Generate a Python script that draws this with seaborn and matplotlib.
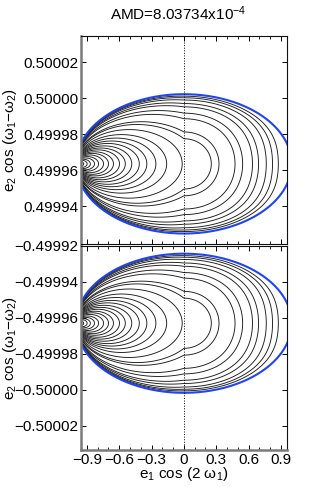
import numpy as np
import matplotlib
matplotlib.use("Agg")
from matplotlib import pyplot as plt
from matplotlib.ticker import MultipleLocator
import seaborn as sns

# values
title_text = "AMD=8.03734x10$^{-4}$"
ylabel_text = "e$_2$ cos (ω$_1$−ω$_2$)"
xlabel_text = "e$_1$ cos (2 ω$_1$)"
centers = [0.4999635, -0.4999630]      # centre of the blue boundary, top / bottom panel
half_height = 3.87e-5                   # vertical half axis of the boundary
half_width = 1.0                        # horizontal half axis
ylims = [(0.499919, 0.5000345), (-0.5000335, -0.4999205)]
yticks = [[0.49994, 0.49996, 0.49998, 0.50000, 0.50002],
          [-0.50002, -0.50000, -0.49998, -0.49996, -0.49994, -0.49992]]
xlim = (-0.956, 0.956)
xticks = [-0.9, -0.6, -0.3, 0, 0.3, 0.6, 0.9]
xticklabels = ["−0.9", "−0.6", "−0.3", "0", "0.3", "0.6", "0.9"]
# contour levels (radius of the circles touching the left tip, then outer ones)
levels = [0.035, 0.051, 0.066, 0.085, 0.104, 0.127, 0.150, 0.173, 0.201, 0.228,
          0.258, 0.293, 0.328, 0.370, 0.420, 0.492,
          0.565, 0.605, 0.71, 0.765, 0.835, 0.875, 0.92, 0.95, 0.972]


def field(x, v):
    # left half: circles tangent to the boundary at the left tip
    with np.errstate(divide="ignore", invalid="ignore"):
        r = ((x + 1) ** 2 + v ** 2) / (2 * (x + 1))
    # right half: squashed ellipses, opening up towards the boundary
    s = 0.7 + 0.3 * (x ** 2 + v ** 2) ** 1.5
    rr = 0.5 * (1 + v ** 2 + (x / s) ** 2)
    f = np.where(x <= 0, r, rr)
    f[x ** 2 + v ** 2 > 1] = np.nan
    return f


sns.set_style("ticks")
plt.rcParams["font.family"] = ["Liberation Sans", "DejaVu Sans"]
plt.rcParams["mathtext.fontset"] = "custom"
plt.rcParams["mathtext.rm"] = "Liberation Sans"
plt.rcParams["mathtext.it"] = "Liberation Sans"
plt.rcParams["font.size"] = 11
plt.rcParams["text.color"] = "black"
plt.rcParams["axes.labelcolor"] = "black"
plt.rcParams["xtick.color"] = "black"
plt.rcParams["ytick.color"] = "black"

fig = plt.figure(figsize=(3.16, 4.87), dpi=100)
ax_top = fig.add_axes([0.256, 0.499, 0.652, 0.427])
ax_bot = fig.add_axes([0.256, 0.076, 0.652, 0.419])

xs = np.linspace(-1, 1, 700)
vs = np.linspace(-1, 1, 700)
X, V = np.meshgrid(xs, vs)
F = field(X, V)
t = np.linspace(0, 2 * np.pi, 400)

for ax, c, yl, yt in zip([ax_top, ax_bot], centers, ylims, yticks):
    ax.contour(X, c + half_height * V, F, levels=levels, colors="#1a1a1a", linewidths=0.65)
    sns.lineplot(x=half_width * np.cos(t), y=c + half_height * np.sin(t), sort=False,
                 estimator=None, color="#2244ee", lw=1.5, ax=ax)
    ax.axvline(0, ls=":", color="k", lw=0.7)
    ax.set_xlim(*xlim)
    ax.set_ylim(*yl)
    ax.set_yticks(yt)
    ax.set_yticklabels([f"{v:.5f}".replace("-", "−") for v in yt])
    ax.set_xticks(xticks)
    ax.xaxis.set_minor_locator(MultipleLocator(0.1))
    ax.tick_params(which="both", direction="in", top=True, right=True, labelsize=11)
    ax.tick_params(which="major", length=3.5, width=0.7, pad=2)
    ax.tick_params(which="minor", length=2, width=0.6)
    ax.set_ylabel(ylabel_text, fontsize=11)
    ax.yaxis.set_label_coords(-0.3, 0.5)
    for side in ["top", "right", "bottom"]:
        ax.spines[side].set_linewidth(0.8)
        ax.spines[side].set_color("#111111")
    ax.spines["left"].set_linewidth(1.8)
    ax.spines["left"].set_color("#7a7a7a")

ax_bot.spines["bottom"].set_linewidth(1.8)
ax_bot.spines["bottom"].set_color("#7a7a7a")
ax_top.set_xticklabels([])
ax_bot.set_xticklabels(xticklabels)
ax_bot.set_xlabel(xlabel_text, fontsize=11, labelpad=-1)
fig.text(0.565, 0.971, title_text, ha="center", va="center", fontsize=11)

fig.savefig("out.png", dpi=100)
